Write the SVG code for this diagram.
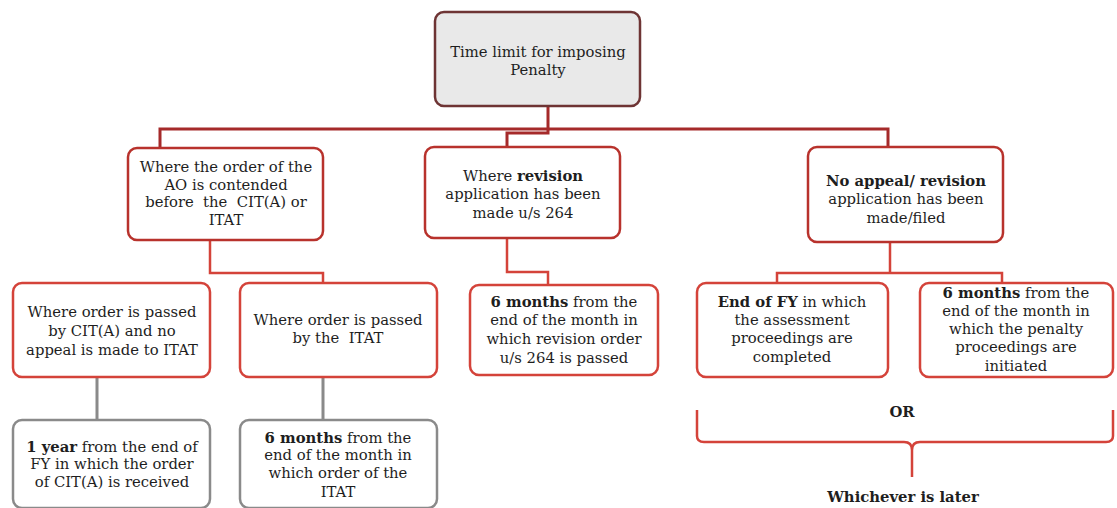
<svg xmlns="http://www.w3.org/2000/svg" width="1117" height="508" viewBox="0 0 1117 508">
<style>
text{font-family:"DejaVu Serif","Liberation Serif",serif;font-size:14.8px;fill:#1e1e1e;text-anchor:middle}
.b{font-weight:bold}
.top{fill:#e9e9e9;stroke:#6e3434;stroke-width:2.5}
.red{fill:#fff;stroke:#d4433a;stroke-width:2.5}
.dred{fill:#fff;stroke:#b8322c;stroke-width:2.5}
.gray{fill:#fff;stroke:#8a8a8a;stroke-width:2.5}
.c1{fill:none;stroke:#a52a2a;stroke-width:3}
.c2{fill:none;stroke:#d4433a;stroke-width:2.5}
.cg{fill:none;stroke:#8a8a8a;stroke-width:3}
</style>
<g id="connectors">
<path class="c1" d="M548 105 V129 M160 148 V129 H888 V147 M548 129 V133 H507 V147"/>
<path class="c2" d="M210 240 V273 H323 V283 M507 238 V272 H548 V285 M890 242 V273 M777 283 V273 H1002 V283"/>
<path class="cg" d="M97 377 V420 M323 377 V420"/>
</g>
<g id="n-top"><rect class="top" x="435" y="12" width="205" height="94" rx="9"/>
<text x="538" y="57">Time limit for imposing</text><text x="538" y="75">Penalty</text></g>
<g id="n-appeal"><rect class="dred" x="128" y="148" width="195" height="92" rx="9"/>
<text x="226" y="172">Where the order of the</text><text x="226" y="190">AO is contended</text><text x="226" y="207">before&#160; the&#160; CIT(A) or</text><text x="226" y="225">ITAT</text></g>
<g id="n-revision"><rect class="dred" x="425" y="147" width="195" height="91" rx="9"/>
<text x="523" y="181">Where <tspan class="b">revision</tspan></text><text x="523" y="199">application has been</text><text x="523" y="218">made u/s 264</text></g>
<g id="n-noappeal"><rect class="dred" x="808" y="147" width="195" height="95" rx="9"/>
<text x="906" y="186" class="b">No appeal/ revision</text><text x="906" y="204">application has been</text><text x="906" y="223">made/filed</text></g>
<g id="n-cita"><rect class="red" x="13" y="283" width="197" height="94" rx="9"/>
<text x="112" y="317">Where order is passed</text><text x="112" y="336">by CIT(A) and no</text><text x="112" y="355">appeal is made to ITAT</text></g>
<g id="n-itat"><rect class="red" x="240" y="283" width="197" height="94" rx="9"/>
<text x="338" y="325">Where order is passed</text><text x="338" y="343">by the&#160; ITAT</text></g>
<g id="n-rev6"><rect class="red" x="470" y="285" width="188" height="90" rx="9"/>
<text x="564" y="307"><tspan class="b">6 months</tspan> from the</text><text x="564" y="325">end of the month in</text><text x="564" y="344">which revision order</text><text x="564" y="363">u/s 264 is passed</text></g>
<g id="n-endfy"><rect class="red" x="697" y="283" width="191" height="94" rx="9"/>
<text x="792" y="307"><tspan class="b">End of FY</tspan> in which</text><text x="792" y="325">the assessment</text><text x="792" y="343">proceedings are</text><text x="792" y="362">completed</text></g>
<g id="n-pen6"><rect class="red" x="920" y="283" width="193" height="94" rx="9"/>
<text x="1016" y="298"><tspan class="b">6 months</tspan> from the</text><text x="1016" y="316">end of the month in</text><text x="1016" y="334">which the penalty</text><text x="1016" y="352">proceedings are</text><text x="1016" y="371">initiated</text></g>
<g id="n-1year"><rect class="gray" x="13" y="420" width="197" height="88" rx="9"/>
<text x="112" y="452"><tspan class="b">1 year</tspan> from the end of</text><text x="112" y="469">FY in which the order</text><text x="112" y="487">of CIT(A) is received</text></g>
<g id="n-itat6"><rect class="gray" x="240" y="420" width="197" height="88" rx="9"/>
<text x="338" y="443"><tspan class="b">6 months</tspan> from the</text><text x="338" y="460">end of the month in</text><text x="338" y="478">which order of the</text><text x="338" y="497">ITAT</text></g>
<g id="brace">
<path class="c2" d="M697 410 V436 Q697 442 704 442 H904 Q912 442 912 450 V477 M912 450 Q912 442 920 442 H1106 Q1113 442 1113 436 V410"/>
<text x="902" y="417" class="b">OR</text>
<text x="903" y="502" class="b">Whichever is later</text>
</g>
</svg>
